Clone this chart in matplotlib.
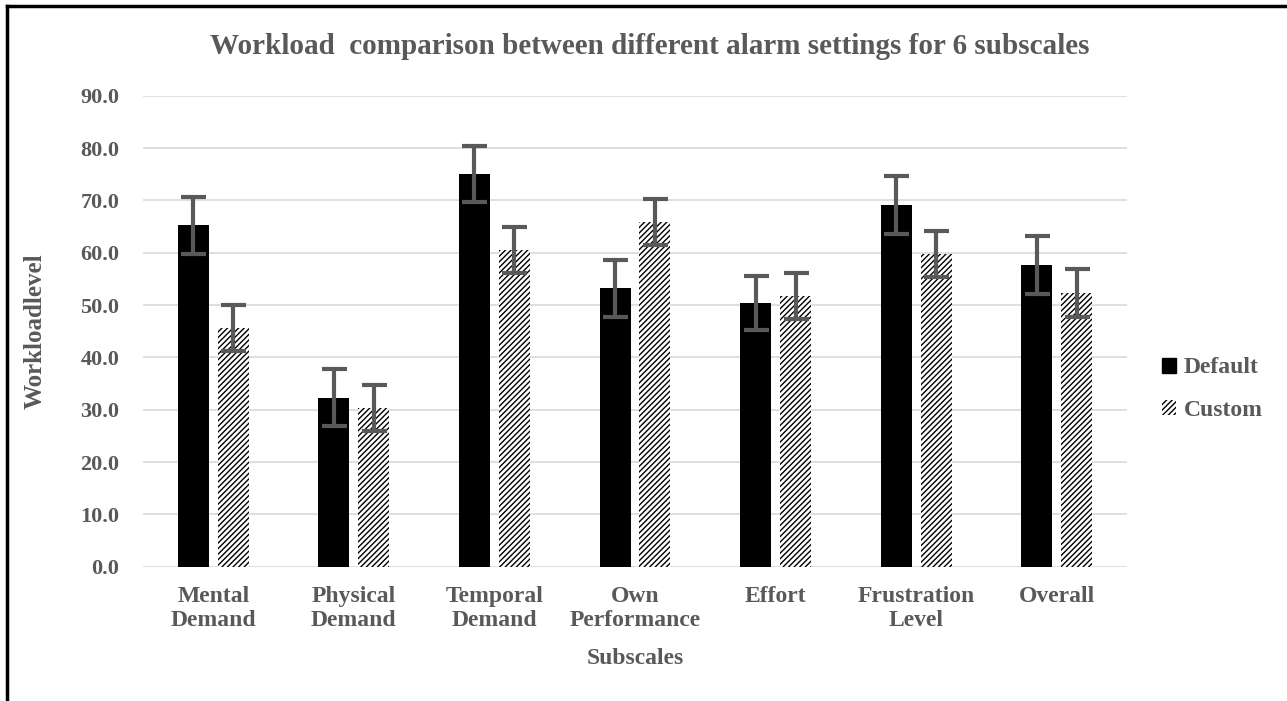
import matplotlib.pyplot as plt
import numpy as np
from matplotlib.patches import Patch
from matplotlib.lines import Line2D

categories = ['Mental\nDemand', 'Physical\nDemand', 'Temporal\nDemand', 'Own\nPerformance',
              'Effort', 'Frustration\nLevel', 'Overall']
default_vals = [65.2, 32.3, 75.0, 53.2, 50.4, 69.1, 57.6]
custom_vals = [45.7, 30.4, 60.6, 65.9, 51.7, 59.7, 52.3]
default_err = [5.4, 5.4, 5.4, 5.4, 5.2, 5.5, 5.5]
custom_err = [4.4, 4.4, 4.4, 4.4, 4.4, 4.4, 4.5]
yticks = [0, 10, 20, 30, 40, 50, 60, 70, 80, 90]

grey = '#595959'
plt.rcParams['font.family'] = 'Liberation Serif'
plt.rcParams['font.weight'] = 'bold'
plt.rcParams['hatch.linewidth'] = 1.0

fig = plt.figure(figsize=(12.87, 7.01), dpi=100)
ax = fig.add_axes([143 / 1287, 1 - 566.7 / 701, 984 / 1287, 471 / 701])

x = np.arange(len(categories))
w = 0.22
off = 0.142

ax.bar(x - off, default_vals, w, color='black', zorder=2)
ax.bar(x + off, custom_vals, w, color='white', edgecolor='black', linewidth=0,
       hatch='//////', zorder=2)
err_kw = dict(fmt='none', ecolor=grey, elinewidth=3, capsize=9, capthick=3, zorder=3)
ax.errorbar(x - off, default_vals, yerr=default_err, **err_kw)
ax.errorbar(x + off, custom_vals, yerr=custom_err, **err_kw)

ax.set_xlim(-0.5, 6.5)
ax.set_ylim(0, 90)
ax.set_yticks(yticks)
ax.set_yticklabels([f'{v:.1f}' for v in yticks])
ax.set_xticks(x)
ax.set_xticklabels(categories, linespacing=1.2)
ax.yaxis.grid(True, color='#d9d9d9', linewidth=1.2, zorder=0)
ax.set_axisbelow(True)
for s in ax.spines.values():
    s.set_visible(False)
ax.tick_params(axis='y', length=0, labelsize=16, labelcolor=grey, pad=17)
ax.tick_params(axis='x', length=0, labelsize=17, labelcolor=grey, pad=14)

ax.set_xlabel('Subscales', fontsize=17, fontweight='bold', color=grey, labelpad=12)
ax.set_ylabel('Workloadlevel', fontsize=18, fontweight='bold', color=grey, labelpad=24)

fig.text(650 / 1287, 1 - 47 / 701, 'Workload  comparison between different alarm settings for 6 subscales',
         ha='center', va='center', fontsize=21, fontweight='bold', color=grey)

handles = [Patch(facecolor='black', edgecolor='black'),
           Patch(facecolor='white', edgecolor='black', linewidth=0, hatch='//////')]
fig.legend(handles, ['Default', 'Custom'], loc='center left', frameon=False,
           bbox_to_anchor=(1141 / 1287, 1 - 389 / 701), fontsize=17,
           handlelength=0.6, handleheight=0.6, handletextpad=0.3, labelspacing=0.9,
           labelcolor=grey)

# frame around the chart (only left and top visible in crop)
fig.add_artist(Line2D([7 / 1287, 7 / 1287], [0, 1 - 6 / 701], color='black', linewidth=2.5,
                      transform=fig.transFigure))
fig.add_artist(Line2D([7 / 1287, 1], [1 - 6 / 701, 1 - 6 / 701], color='black', linewidth=2.5,
                      transform=fig.transFigure))

fig.savefig('out.png', dpi=100)
